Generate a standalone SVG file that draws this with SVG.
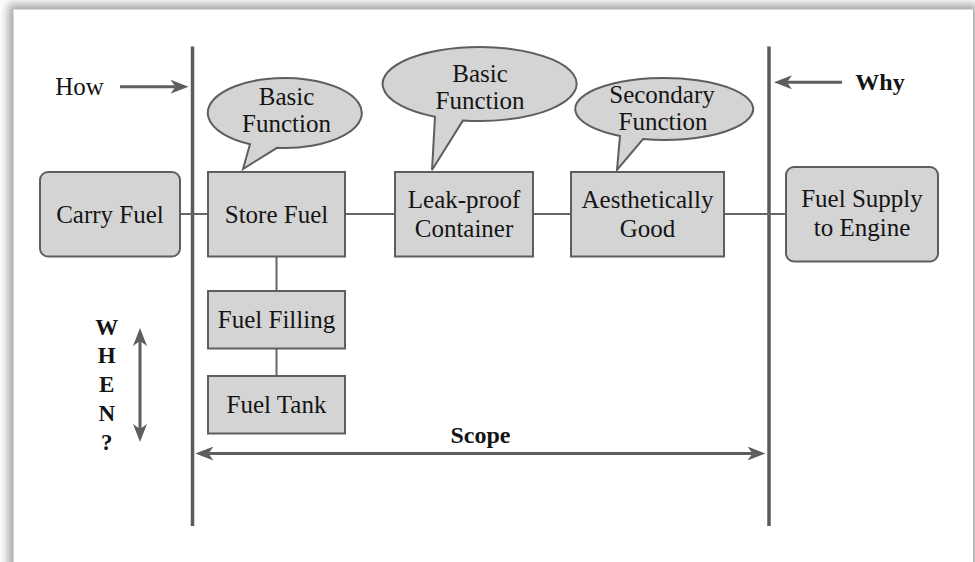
<svg xmlns="http://www.w3.org/2000/svg" width="975" height="562" viewBox="0 0 975 562">
  <style>
    text { font-family: "Liberation Serif", "DejaVu Serif", serif; fill: #141414; }
    .lbl { font-size: 25px; text-anchor: middle; }
    .bold { font-weight: bold; }
    .box { fill: #d4d4d4; stroke: #5e5e5e; stroke-width: 2; }
    .bubble { fill: #d4d4d4; stroke: #5e5e5e; stroke-width: 2; stroke-linejoin: miter; }
    .link { stroke: #666; stroke-width: 2; fill: none; }
    .bound { stroke: #5b5b5b; stroke-width: 3.5; fill: none; }
    .arrow { stroke: #5e5e5e; stroke-width: 3; fill: none; }
  </style>
  <defs>
    <filter id="soft" x="-5%" y="-5%" width="110%" height="110%">
      <feGaussianBlur stdDeviation="5"/>
    </filter>
    <marker id="head" viewBox="0 0 18 14" markerWidth="18" markerHeight="14" refX="5" refY="7" orient="auto-start-reverse" markerUnits="userSpaceOnUse">
      <path d="M0,0 L18,7 L0,14 L5,7 Z" fill="#5e5e5e"/>
    </marker>
  </defs>

  <!-- page with drop shadow -->
  <rect x="0" y="0" width="975" height="562" fill="#ffffff"/>
  <rect x="8" y="4" width="970" height="600" fill="#a6a6a6" filter="url(#soft)"/>
  <rect x="13.5" y="9.5" width="959.5" height="560" fill="#ffffff"/>

  <!-- scope boundaries -->
  <g id="boundaries">
    <line class="bound" x1="192.5" y1="46.5" x2="192.5" y2="526"/>
    <line class="bound" x1="769" y1="46.5" x2="769" y2="526"/>
  </g>

  <!-- connectors -->
  <g id="connectors">
    <line class="link" x1="180" y1="214" x2="208" y2="214"/>
    <line class="link" x1="345" y1="214" x2="395" y2="214"/>
    <line class="link" x1="533" y1="214" x2="571" y2="214"/>
    <line class="link" x1="724" y1="214" x2="786" y2="214"/>
    <line class="link" x1="276.5" y1="256.5" x2="276.5" y2="291"/>
    <line class="link" x1="276.5" y1="348.5" x2="276.5" y2="376"/>
    <line class="arrow" x1="120" y1="86.7" x2="175.5" y2="86.7" marker-end="url(#head)"/>
    <line class="arrow" x1="842" y1="82.3" x2="787" y2="82.3" marker-end="url(#head)"/>
    <line class="arrow" x1="140" y1="341" x2="140" y2="429" marker-start="url(#head)" marker-end="url(#head)"/>
    <line class="arrow" x1="208.5" y1="453.5" x2="752.5" y2="453.5" marker-start="url(#head)" marker-end="url(#head)"/>
  </g>

  <!-- direction labels -->
  <g id="labels">
    <text class="lbl" x="79.5" y="95">How</text>
    <text class="lbl bold" x="880" y="90" style="font-size:24px">Why</text>
    <text class="lbl bold" x="480.5" y="443" style="font-size:24px">Scope</text>
    <g class="bold" style="font-size:23px">
      <text x="106.7" y="335" text-anchor="middle">W</text>
      <text x="106.7" y="363" text-anchor="middle">H</text>
      <text x="106.7" y="391.7" text-anchor="middle">E</text>
      <text x="106.7" y="421" text-anchor="middle">N</text>
      <text x="106.7" y="450" text-anchor="middle">?</text>
    </g>
  </g>

  <!-- function nodes -->
  <g id="carry-fuel">
    <rect class="box" x="40" y="172" width="140" height="84.5" rx="8"/>
    <text class="lbl" x="110" y="223">Carry Fuel</text>
  </g>
  <g id="store-fuel">
    <rect class="box" x="208" y="172" width="137" height="84.5"/>
    <text class="lbl" x="276.5" y="223">Store Fuel</text>
  </g>
  <g id="leak-proof-container">
    <rect class="box" x="395" y="172" width="138" height="84.5"/>
    <text class="lbl" x="464" y="208">Leak-proof</text>
    <text class="lbl" x="464" y="236.7">Container</text>
  </g>
  <g id="aesthetically-good">
    <rect class="box" x="571" y="172" width="153" height="84.5"/>
    <text class="lbl" x="647.5" y="208">Aesthetically</text>
    <text class="lbl" x="647.5" y="236.7">Good</text>
  </g>
  <g id="fuel-supply">
    <rect class="box" x="786" y="167" width="152" height="94.5" rx="8"/>
    <text class="lbl" x="862" y="206.7">Fuel Supply</text>
    <text class="lbl" x="862" y="236">to Engine</text>
  </g>
  <g id="fuel-filling">
    <rect class="box" x="208" y="291" width="137" height="57.5"/>
    <text class="lbl" x="276.5" y="328.3">Fuel Filling</text>
  </g>
  <g id="fuel-tank">
    <rect class="box" x="208" y="376" width="137" height="57.5"/>
    <text class="lbl" x="276.5" y="413.3">Fuel Tank</text>
  </g>

  <!-- callouts -->
  <g id="callout-store">
    <path class="bubble" d="M250,144.2 L243,169 L277,147.8 A77,35 0 1 0 250,144.2 Z"/>
    <text class="lbl" x="286.5" y="105">Basic</text>
    <text class="lbl" x="286.5" y="131.7">Function</text>
  </g>
  <g id="callout-leak">
    <path class="bubble" d="M435,116.8 L432,170 L463,120.4 A97,37 0 1 0 435,116.8 Z"/>
    <text class="lbl" x="480" y="81.7">Basic</text>
    <text class="lbl" x="480" y="109.3">Function</text>
  </g>
  <g id="callout-aesthetic">
    <path class="bubble" d="M620,135.9 L617,170 L643,139.1 A89,31 0 1 0 620,135.9 Z"/>
    <text class="lbl" x="662" y="103">Secondary</text>
    <text class="lbl" x="663" y="130">Function</text>
  </g>
</svg>
